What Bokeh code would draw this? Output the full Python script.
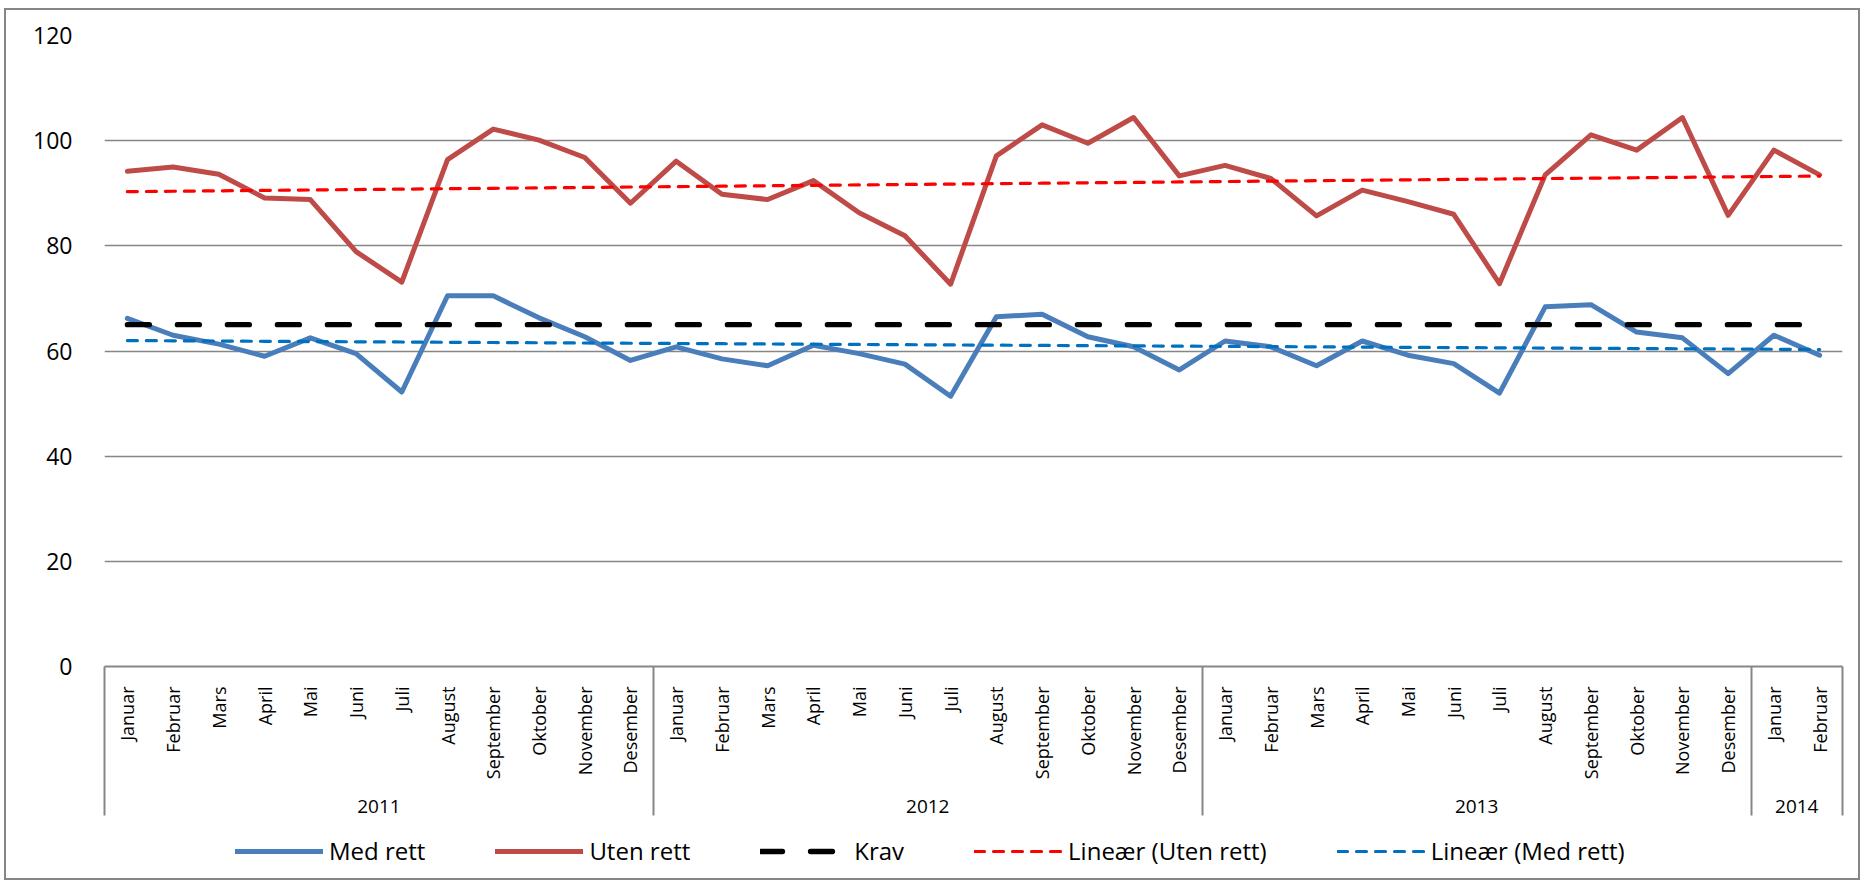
import math
import numpy as np
from bokeh.plotting import figure
from bokeh.layouts import column
from bokeh.models import Range1d, FixedTicker, LinearAxis, Legend, LegendItem
from bokeh.embed import file_html
from bokeh.resources import INLINE

# ---------------- data ----------------
month_names = ["Januar", "Februar", "Mars", "April", "Mai", "Juni", "Juli",
               "August", "September", "Oktober", "November", "Desember"]
year_labels = ["2011", "2012", "2013", "2014"]
months_in_year = [12, 12, 12, 2]

med_rett = [66.2, 63.0, 61.3, 59.0, 62.5, 59.5, 52.2, 70.5, 70.5, 66.3, 62.7, 58.2,
            60.8, 58.5, 57.2, 61.1, 59.5, 57.5, 51.4, 66.5, 67.0, 62.7, 60.8, 56.4,
            61.9, 60.8, 57.2, 61.9, 59.2, 57.6, 52.0, 68.4, 68.8, 63.6, 62.5, 55.7,
            63.0, 59.2]
uten_rett = [94.2, 95.0, 93.6, 89.1, 88.8, 78.9, 73.1, 96.4, 102.2, 100.1, 96.8, 88.1,
             96.1, 89.8, 88.8, 92.4, 86.3, 81.9, 72.7, 97.1, 103.0, 99.5, 104.4, 93.3,
             95.3, 92.8, 85.7, 90.6, 88.4, 86.0, 72.8, 93.5, 101.1, 98.2, 104.4, 85.8,
             98.2, 93.5]
krav = 65
y_ticks = [0, 20, 40, 60, 80, 100, 120]
series_names = ["Med rett", "Uten rett", "Krav", "Lineær (Uten rett)", "Lineær (Med rett)"]

# ---------------- derived ----------------
month_labels = [month_names[m] for c in months_in_year for m in range(c)]
n = len(month_labels)
x = [i + 0.5 for i in range(n)]
bounds = [0.0] + [float(b) for b in np.cumsum(months_in_year)]
year_centers = [(bounds[i] + bounds[i + 1]) / 2 for i in range(len(year_labels))]

xa = np.array(x)
s_u, i_u = np.polyfit(xa, np.array(uten_rett), 1)
s_m, i_m = np.polyfit(xa, np.array(med_rett), 1)
trend_uten = list(s_u * xa + i_u)
trend_med = list(s_m * xa + i_m)

FONT = "Open Sans"
GRAY = "#868686"

styles = [
    dict(line_color="#4A7EBB", line_width=5, line_join="round", line_cap="round"),
    dict(line_color="#BE4B48", line_width=5, line_join="round", line_cap="round"),
    dict(line_color="black", line_width=5.3, line_dash="22 28", line_cap="round"),
    dict(line_color="#FF0000", line_width=3.2, line_dash="10 9", line_cap="round"),
    dict(line_color="#0070C0", line_width=3.2, line_dash="10 9", line_cap="round"),
]
series_y = [med_rett, uten_rett, [krav] * n, trend_uten, trend_med]

p = figure(frame_width=1738, frame_height=631,
           x_range=Range1d(0, n), y_range=Range1d(0, 120),
           x_axis_type=None, output_backend="svg", toolbar_location=None,
           min_border_left=98, min_border_right=16, min_border_top=25,
           min_border_bottom=152)
p.outline_line_color = None
p.background_fill_color = "white"
p.border_fill_color = "white"

# y axis
p.yaxis.ticker = FixedTicker(ticks=y_ticks)
p.yaxis.axis_line_color = None
p.yaxis.major_tick_line_color = None
p.yaxis.minor_tick_line_color = None
p.yaxis.major_label_standoff = 26
p.yaxis.major_label_text_font = FONT
p.yaxis.major_label_text_font_size = "23px"
p.yaxis.major_label_text_color = "black"
p.ygrid.ticker = FixedTicker(ticks=y_ticks)
p.ygrid.grid_line_color = GRAY
p.ygrid.grid_line_width = 1.5

# month axis
month_axis = LinearAxis(
    ticker=FixedTicker(ticks=x, minor_ticks=[]),
    major_label_overrides={float(xi): lbl for xi, lbl in zip(x, month_labels)},
    major_label_orientation=math.pi / 2,
    major_tick_in=0, major_tick_out=0,
    minor_tick_line_color=None,
    axis_line_color=GRAY, axis_line_width=2,
    major_label_standoff=20,
    major_label_text_font=FONT, major_label_text_font_size="18px",
    major_label_text_color="black",
)
p.add_layout(month_axis, "below")

# year axis
year_axis = LinearAxis(
    ticker=FixedTicker(ticks=year_centers, minor_ticks=[]),
    major_label_overrides={float(c): lbl for c, lbl in zip(year_centers, year_labels)},
    axis_line_color=None, major_tick_line_color=None, minor_tick_line_color=None,
    major_label_standoff=11,
    major_label_text_font=FONT, major_label_text_font_size="19px",
    major_label_text_color="black",
)
p.add_layout(year_axis, "below")

# separator axis: ticks pointing up between the year groups
sep_axis = LinearAxis(
    ticker=FixedTicker(ticks=[], minor_ticks=bounds),
    axis_line_color=None, major_tick_line_color=None,
    minor_tick_in=149, minor_tick_out=0,
    minor_tick_line_color=GRAY, minor_tick_line_width=2,
    major_label_standoff=0, major_label_text_font_size="0px",
)
p.add_layout(sep_axis, "below")

# series
for ys, st in zip(series_y, styles):
    p.line(x, ys, **st)

# legend strip: a separate figure whose view shows no data (lines fall outside
# its y range), used only so the legend is not clipped by the main frame
lf = figure(width=1852, height=60, x_range=Range1d(0, n), y_range=Range1d(-2, -1),
            x_axis_type=None, y_axis_type=None, output_backend="svg",
            toolbar_location=None, min_border=0)
lf.outline_line_color = None
lf.background_fill_color = "white"
lf.border_fill_color = "white"
leg_renderers = [lf.line(x, ys, **st) for ys, st in zip(series_y, styles)]

legend = Legend(
    items=[LegendItem(label=nm, renderers=[r]) for nm, r in zip(series_names, leg_renderers)],
    orientation="horizontal", location=(131, 11),
    border_line_color=None, background_fill_alpha=0,
    label_text_font=FONT, label_text_font_size="24px", label_text_color="black",
    glyph_width=88, glyph_height=24, label_standoff=6, spacing=70,
    padding=6, margin=0,
)
lf.add_layout(legend, "center")

layout = column(p, lf, spacing=0)
layout.styles = {"border": "2px solid #868686", "margin-left": "4px", "margin-top": "8px"}

open("out.html", "w").write(file_html(layout, INLINE))
